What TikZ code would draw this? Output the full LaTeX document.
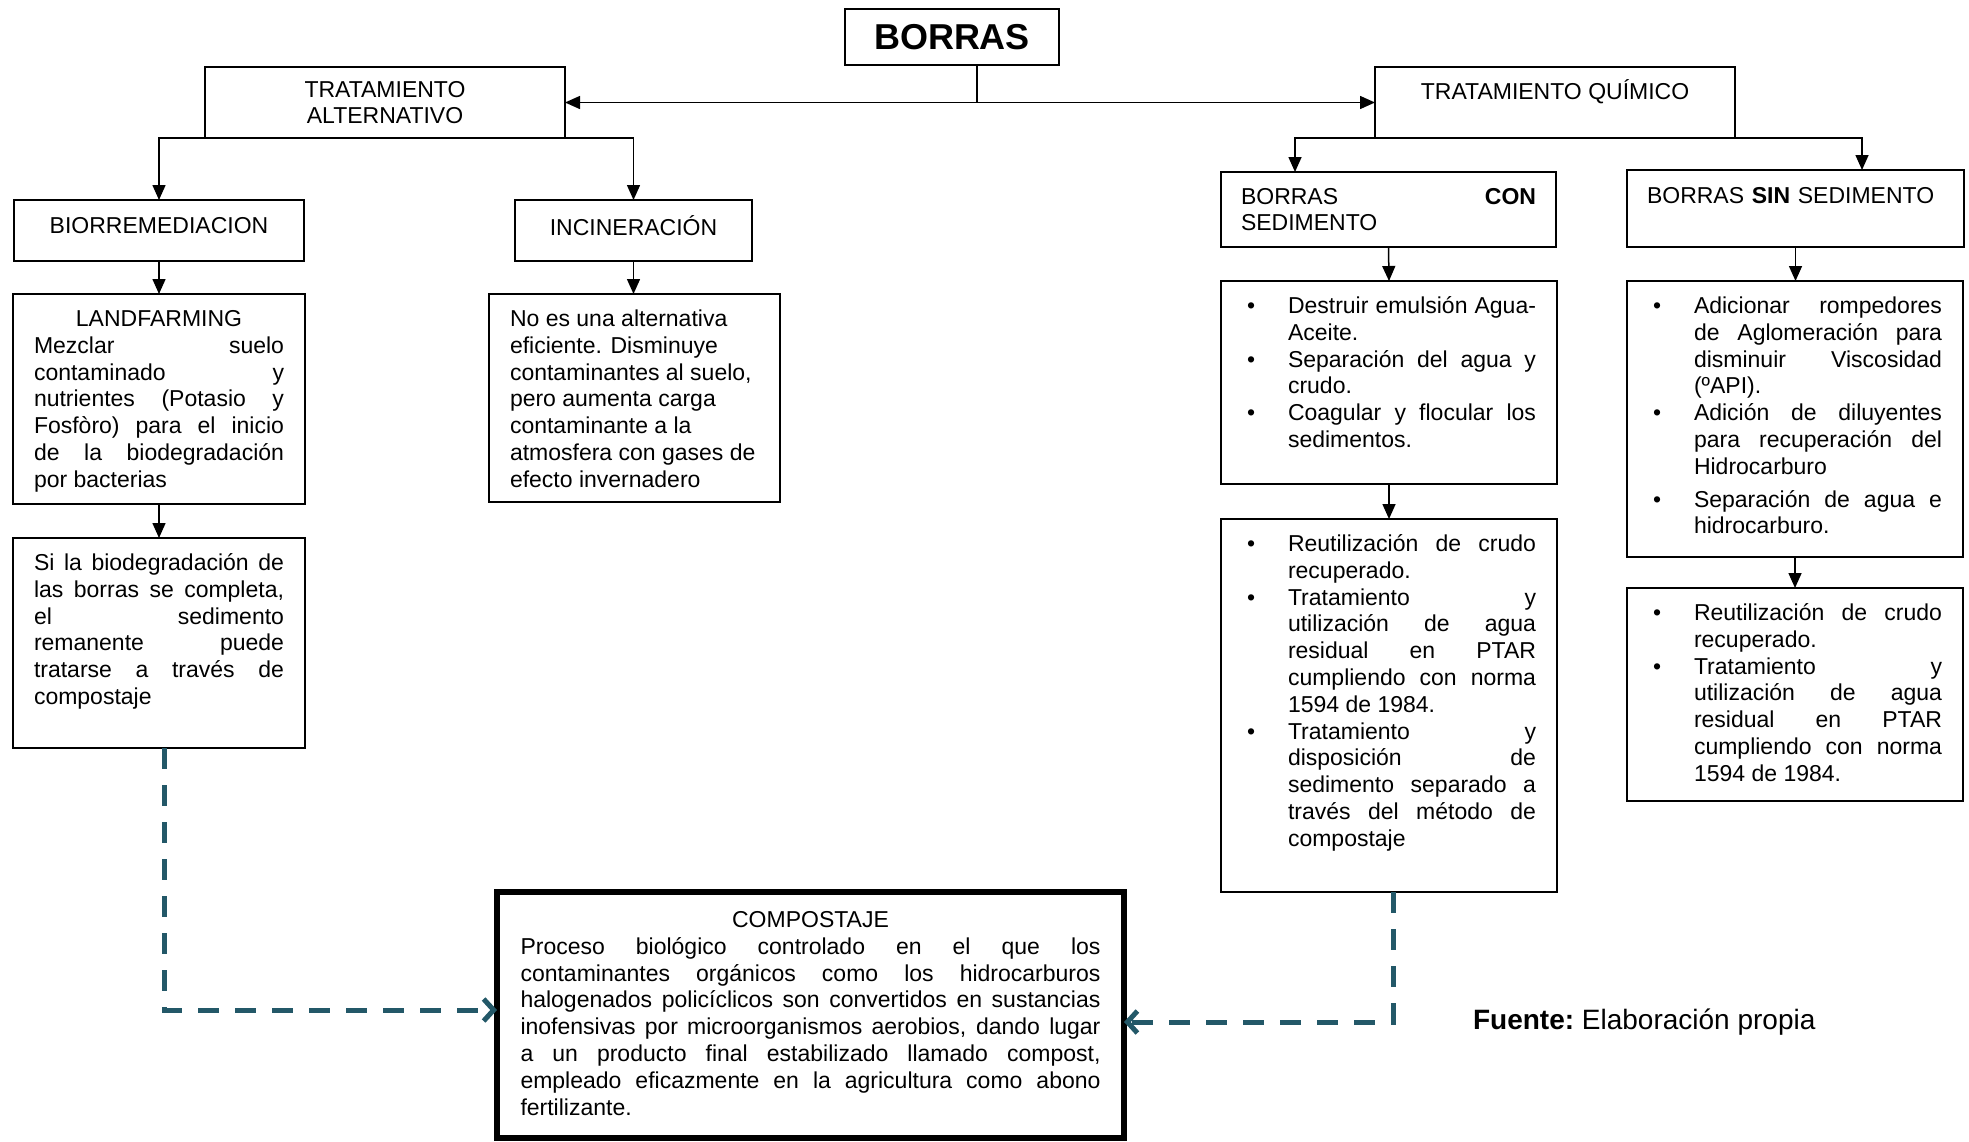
\documentclass[tikz,border=0pt]{standalone}
\usepackage{fontspec}
\setmainfont{Liberation Sans}
\usetikzlibrary{arrows.meta,positioning}
\definecolor{linkteal}{RGB}{35,88,104}
\tolerance=10000 \hbadness=10000 \hyphenpenalty=10000
% bullet item with hanging text
\newcommand{\bul}{\par\noindent\hangindent=23pt\hangafter=1\makebox[23pt][l]{\strut\hspace{2.5pt}\textbullet}\ignorespaces}
% fixed size body, text at the top
\newcommand{\boxbody}[3]{\parbox[c][#2][t]{#1}{#3}}

\begin{document}
\begin{tikzpicture}[x=0.5pt,y=-0.5pt, every node/.style={font=\fontsize{11.5}{13.4}\selectfont}, title/.style={draw,line width=1pt,outer sep=0pt,anchor=north west,inner sep=0pt,minimum width=107pt,minimum height=28pt,font=\bfseries\fontsize{18}{20}\selectfont}, branch/.style={draw,line width=1pt,outer sep=0pt,anchor=north west,inner sep=0pt,align=center}, panel/.style={draw,line width=1pt,outer sep=0pt,anchor=north west,inner xsep=10.5pt,inner ysep=6.85pt}, arrow/.style={-{Triangle[length=7.5pt,width=6.5pt]},line width=0.75pt}, dasharrow/.style={draw=linkteal,line width=2.5pt,dash pattern=on 10.5pt off 8pt,-{Straight Barb[length=5pt,width=11pt]}}]
\useasboundingbox (0,0) rectangle (1969,1141);

\node[title] (borras) at (845,9) {BORRAS};
\node[branch,minimum width=180pt,minimum height=35.5pt] (ta) at (205,67) {TRATAMIENTO\\ALTERNATIVO};
\node[branch,minimum width=180pt,minimum height=35.5pt] (tq) at (1375,67) {TRATAMIENTO QUÍMICO\\\mbox{}};
\node[branch,minimum width=145pt,minimum height=30.5pt] (bio) at (14,200) {BIORREMEDIACION\\[-8.4pt]\mbox{}};
\node[branch,minimum width=118.5pt,minimum height=30.5pt] (inc) at (515,200) {INCINERACIÓN\\[-8.4pt]\mbox{}};
\node[branch,align=left,text width=147.5pt,inner xsep=10pt,minimum height=37.5pt] (con) at (1221,172) {BORRAS\hfill\textbf{CON}\\SEDIMENTO};
\node[branch,align=left,text width=148.5pt,inner xsep=10pt,minimum height=38.5pt] (sin) at (1627,170) {BORRAS \textbf{SIN} SEDIMENTO\\\mbox{}};

% left branch
\node[panel] (land) at (13,294) {\boxbody{125pt}{91.5pt}{\strut\hfill LANDFARMING\hfill\null\par
Mezclar suelo\linebreak contaminado y\linebreak nutrientes (Potasio y\linebreak Fosfòro) para el inicio\linebreak de la biodegradación\linebreak por bacterias}};
\node[panel] (noes) at (489,294) {\boxbody{124.5pt}{90.5pt}{\raggedright\strut No es una alternativa\\ eficiente. Disminuye\\ contaminantes al suelo,\\ pero aumenta carga\\ contaminante a la\\ atmosfera con gases de\\ efecto invernadero}};
\node[panel] (si) at (13,538) {\boxbody{125pt}{91.5pt}{\strut Si la biodegradación de\linebreak las borras se completa,\linebreak el sedimento\linebreak remanente puede\linebreak tratarse a través de\linebreak compostaje}};

% right branch
\node[panel] (con1) at (1221,281) {\boxbody{147pt}{88pt}{\bul Destruir emulsión Agua-\linebreak Aceite.
\bul Separación del agua y\linebreak crudo.
\bul Coagular y flocular los\linebreak sedimentos.}};
\node[panel] (con2) at (1221,519) {\boxbody{147pt}{173pt}{\bul Reutilización de crudo\linebreak recuperado.
\bul Tratamiento y\linebreak utilización de agua\linebreak residual en PTAR\linebreak cumpliendo con norma\linebreak 1594 de 1984.
\bul Tratamiento y\linebreak disposición de\linebreak sedimento separado a\linebreak través del método de\linebreak compostaje}};
\node[panel] (sin1) at (1627,281) {\boxbody{147pt}{124.5pt}{\bul Adicionar rompedores\linebreak de Aglomeración para\linebreak disminuir Viscosidad\linebreak (ºAPI).
\bul Adición de diluyentes\linebreak para recuperación del\linebreak Hidrocarburo
\par\vspace{3pt}\bul Separación de agua e\linebreak hidrocarburo.}};
\node[panel] (sin2) at (1627,588) {\boxbody{147pt}{93pt}{\bul Reutilización de crudo\linebreak recuperado.
\bul Tratamiento y\linebreak utilización de agua\linebreak residual en PTAR\linebreak cumpliendo con norma\linebreak 1594 de 1984.}};

% compost box
\node[panel,line width=3pt,inner xsep=11.75pt,inner ysep=8.35pt] (comp) at (497,892) {\boxbody{290pt}{106.3pt}{\strut\hfill COMPOSTAJE\hfill\null\par
Proceso biológico controlado en el que los\linebreak contaminantes orgánicos como los hidrocarburos\linebreak halogenados policíclicos son convertidos en sustancias\linebreak inofensivas por microorganismos aerobios, dando lugar\linebreak a un producto final estabilizado llamado compost,\linebreak empleado eficazmente en la agricultura como abono\linebreak fertilizante.}};
\node[anchor=west,font=\fontsize{14}{16}\selectfont] (fuente) at (1466,1022) {\textbf{Fuente:}~Elaboración propia};

% connectors
\coordinate (stem) at ([xshift=12.5pt]borras.south);
\draw[line width=0.75pt] (stem) -- (stem |- ta.east) coordinate (split);
\draw[arrow] (split) -- (ta.east);
\draw[arrow] (split) -- (tq.west);
\draw[arrow] (ta.south west) -| (bio.north);
\draw[arrow] (ta.south east) -| (inc.north);
\draw[arrow] (tq.south west) -| ([xshift=37pt]con.north west);
\draw[arrow] (tq.south east) -| ([xshift=-51pt]sin.north east);
\draw[arrow] (bio.south) -- (land.north);
\draw[arrow] (inc.south) -- (inc.south |- noes.north);
\draw[arrow] (land.south) -- (si.north);
\draw[arrow] (con.south) -- (con1.north);
\draw[arrow] (con1.south) -- (con2.north);
\draw[arrow] (sin.south) -- (sin.south |- sin1.north);
\draw[arrow] (sin1.south) -- (sin2.north);
\draw[dasharrow] ([xshift=2.5pt]si.south) |- ([yshift=2.5pt]comp.west);
\draw[dasharrow] ([xshift=2pt]con2.south) |- ([yshift=-3.5pt]comp.east);
\end{tikzpicture}
\end{document}
